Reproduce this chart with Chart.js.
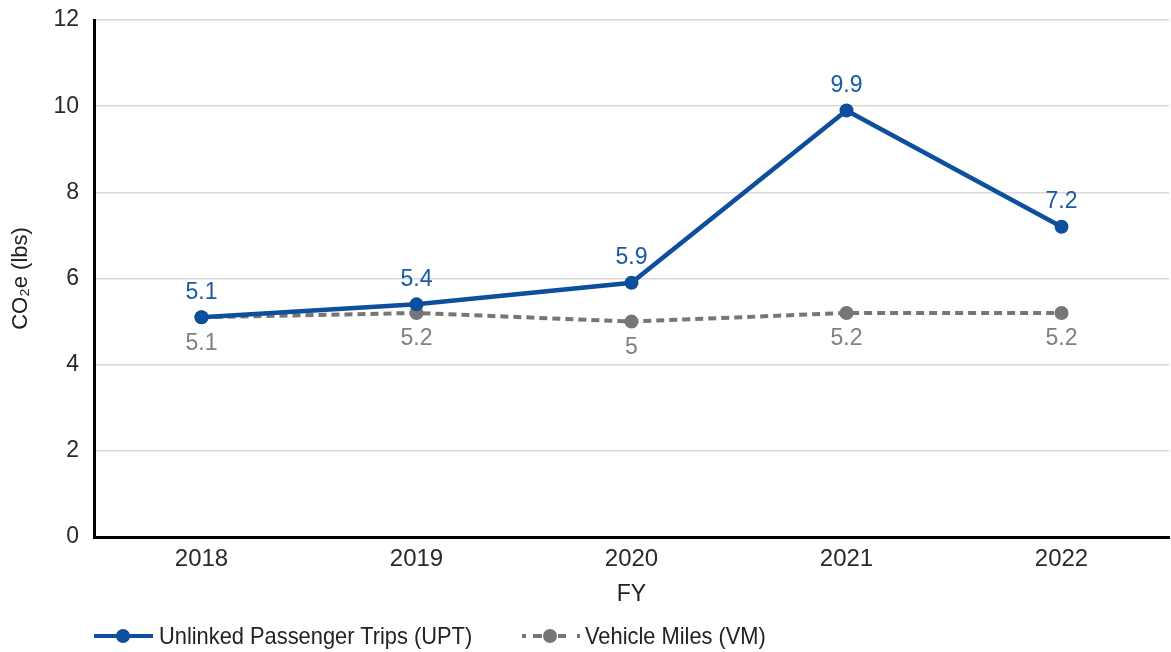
<!DOCTYPE html>
<html>
<head>
<meta charset="utf-8">
<script src="https://cdn.jsdelivr.net/npm/chart.js@4/dist/chart.umd.min.js"></script>
<style>
  html, body { margin: 0; padding: 0; background: #fff; }
  #wrap { position: relative; width: 1171px; height: 652px; }
  #legend { position: absolute; left: 0; top: 622px; height: 28px; width: 1171px;
    font-family: 'Liberation Sans', Arial, sans-serif; font-size: 24px; color: #222; }
  .item { position: absolute; top: 0; height: 28px; line-height: 28px; white-space: nowrap; }
  .item svg { position: absolute; top: 0; }
  .item span { position: absolute; top: 0; transform: scaleX(0.91); transform-origin: 0 50%; }
</style>
</head>
<body>
<div id="wrap">
  <canvas id="c" width="1171" height="652"></canvas>
  <div id="legend"></div>
</div>
<script>
const categories = ['2018', '2019', '2020', '2021', '2022'];
const uptValues = [5.1, 5.4, 5.9, 9.9, 7.2];
const vmValues = [5.1, 5.2, 5, 5.2, 5.2];
const seriesNames = ['Unlinked Passenger Trips (UPT)', 'Vehicle Miles (VM)'];
const yTicks = [0, 2, 4, 6, 8, 10, 12];

const BLUE = '#0d4f9c';
const BLUE_TEXT = '#1a5ba6';
const GRAY = '#767676';
const GRAY_TEXT = '#808080';
const FONT = "'Liberation Sans', Arial, sans-serif";

const labelPlugin = {
  id: 'pointLabels',
  afterDatasetsDraw(chart) {
    const ctx = chart.ctx;
    ctx.save();
    ctx.font = '23px ' + FONT;
    ctx.textAlign = 'center';
    ctx.textBaseline = 'middle';
    chart.data.datasets.forEach((ds, i) => {
      const meta = chart.getDatasetMeta(i);
      meta.data.forEach((pt, j) => {
        const above = i === 0;
        ctx.fillStyle = above ? BLUE_TEXT : GRAY_TEXT;
        ctx.fillText(String(ds.data[j]), pt.x, pt.y + (above ? -25 : 26));
      });
    });
    ctx.restore();
  }
};

new Chart(document.getElementById('c'), {
  type: 'line',
  data: {
    labels: categories,
    datasets: [
      {
        label: seriesNames[0],
        data: uptValues,
        borderColor: BLUE,
        backgroundColor: BLUE,
        borderWidth: 4.5,
        pointRadius: 7,
        pointHoverRadius: 7,
        pointBackgroundColor: BLUE,
        pointBorderWidth: 0,
        tension: 0,
        order: 0
      },
      {
        label: seriesNames[1],
        data: vmValues,
        borderColor: GRAY,
        backgroundColor: GRAY,
        borderWidth: 4,
        borderDash: [8, 5],
        pointRadius: 7,
        pointHoverRadius: 7,
        pointBackgroundColor: GRAY,
        pointBorderWidth: 0,
        tension: 0,
        order: 1
      }
    ]
  },
  options: {
    responsive: false,
    animation: false,
    layout: { autoPadding: false, padding: { top: 20, right: 2, bottom: 35, left: 0 } },
    plugins: {
      legend: { display: false },
      tooltip: { enabled: false }
    },
    scales: {
      x: {
        offset: true,
        grid: { display: false, drawTicks: false },
        border: { display: true, color: '#000', width: 3 },
        ticks: { color: '#2a2a2a', font: { family: FONT, size: 24 }, padding: 8 },
        title: { display: true, text: 'FY', color: '#222', font: { family: FONT, size: 23 }, padding: { top: 0, bottom: 9 } },
        afterFit(s) { s.height = 80; s.paddingLeft = 0; s.paddingRight = 0; }
      },
      y: {
        min: 0,
        max: 12,
        afterBuildTicks(s) { s.ticks = yTicks.map(v => ({ value: v })); },
        grid: { color: '#d9d9d9', lineWidth: 1.5, drawTicks: false },
        border: { display: true, color: '#000', width: 3 },
        ticks: { color: '#2a2a2a', font: { family: FONT, size: 23 }, padding: 15 },
        title: { display: true, text: 'CO\u2082e (lbs)', color: '#222', font: { family: FONT, size: 22 }, padding: { top: 8, bottom: 0 } },
        afterFit(s) { s.width = 94; s.paddingTop = 0; s.paddingBottom = 0; }
      }
    }
  },
  plugins: [labelPlugin]
});

// legend
const legend = document.getElementById('legend');
const icons = [
  `<svg width="62" height="28" viewBox="0 0 62 28"><line x1="0" y1="14" x2="59" y2="14" stroke="${BLUE}" stroke-width="4"/><circle cx="29" cy="14" r="7" fill="${BLUE}"/></svg>`,
  `<svg width="62" height="28" viewBox="0 0 62 28"><g stroke="${GRAY}" stroke-width="4"><line x1="0" y1="14" x2="4" y2="14"/><line x1="11" y1="14" x2="20" y2="14"/><line x1="36" y1="14" x2="44" y2="14"/><line x1="55" y1="14" x2="58" y2="14"/></g><circle cx="28" cy="14" r="7" fill="${GRAY}"/></svg>`
];
const positions = [{ icon: 94, text: 159 }, { icon: 522, text: 585 }];
seriesNames.forEach((n, i) => {
  const d = document.createElement('div');
  d.className = 'item';
  d.style.left = positions[i].icon + 'px';
  d.innerHTML = icons[i] + `<span style="left:${positions[i].text - positions[i].icon}px">${n}</span>`;
  legend.appendChild(d);
});
</script>
</body>
</html>
